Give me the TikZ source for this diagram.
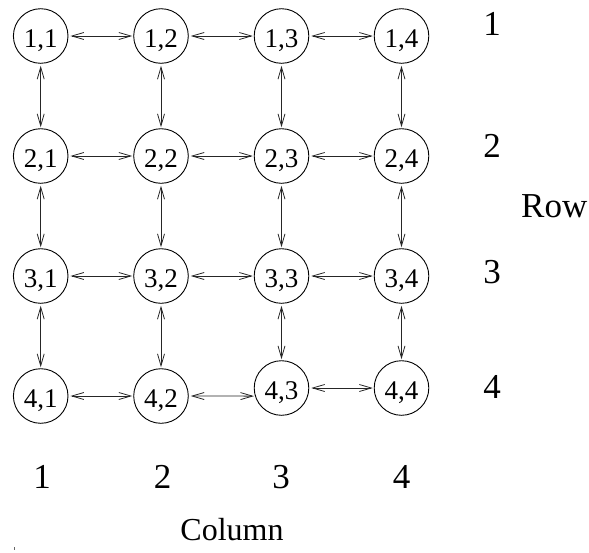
\documentclass[tikz,border=0pt]{standalone}
\usepackage{fontspec}
\setmainfont{Liberation Serif}
\usetikzlibrary{arrows.meta}
\tikzset{
  cell/.style={circle,draw,line width=0.9pt,minimum size=54.6pt,inner sep=0pt,
    font=\fontsize{27}{32}\selectfont,text height=22pt,text depth=0pt},
  link/.style={{Straight Barb[length=12pt,width=7pt]}-{Straight Barb[length=12pt,width=7pt]},
    line width=0.8pt,draw=black!85,shorten <=2pt,shorten >=1pt},
  lab/.style={font=\fontsize{35}{40}\selectfont,anchor=base,inner sep=0pt}
}
\begin{document}
\begin{tikzpicture}[x=1pt,y=-1pt]
\useasboundingbox (0,0) rectangle (589,552);
% nodes
\node[cell] (n11) at (40.7,36) {1,1};
\node[cell] (n12) at (161,36) {1,2};
\node[cell] (n13) at (281.5,36) {1,3};
\node[cell] (n14) at (401.5,36) {1,4};
\node[cell] (n21) at (40.7,156) {2,1};
\node[cell] (n22) at (161,156) {2,2};
\node[cell] (n23) at (281.5,156) {2,3};
\node[cell] (n24) at (401.5,156) {2,4};
\node[cell] (n31) at (40.7,276) {3,1};
\node[cell] (n32) at (161,276) {3,2};
\node[cell] (n33) at (281.5,276) {3,3};
\node[cell] (n34) at (401.5,276) {3,4};
\node[cell] (n41) at (40.7,396) {4,1};
\node[cell] (n42) at (161,396) {4,2};
\node[cell] (n43) at (281.5,388) {4,3};
\node[cell] (n44) at (401.5,388) {4,4};
% horizontal links
\foreach \r in {1,2,3}{
  \draw[link] (n\r1) -- (n\r2);
  \draw[link] (n\r2) -- (n\r3);
  \draw[link] (n\r3) -- (n\r4);
}
\draw[link] (n41) -- (n42);
\draw[link] (n42.east) -- (n43.197);
\draw[link] (n43) -- (n44);
% vertical links
\foreach \c in {1,2,3,4}{
  \draw[link] (n1\c) -- (n2\c);
  \draw[link] (n2\c) -- (n3\c);
  \draw[link] (n3\c) -- (n4\c);
}
% row labels
\node[lab] (r1) at (492,35) {1};
\node[lab] (r2) at (492,157) {2};
\node[lab] (r3) at (492,283) {3};
\node[lab] (r4) at (492,398) {4};
\node[lab,anchor=base west] (rowlab) at (521,217) {Row};
% column labels
\node[lab] (c1) at (42,488) {1};
\node[lab] (c2) at (162.5,488) {2};
\node[lab] (c3) at (281,488) {3};
\node[lab] (c4) at (401.5,488) {4};
\node[lab,font=\fontsize{32}{38}\selectfont] (collab) at (232,540) {Column};
% stray mark
\fill[black!60] (14,547) rectangle (15,550);
\end{tikzpicture}
\end{document}
